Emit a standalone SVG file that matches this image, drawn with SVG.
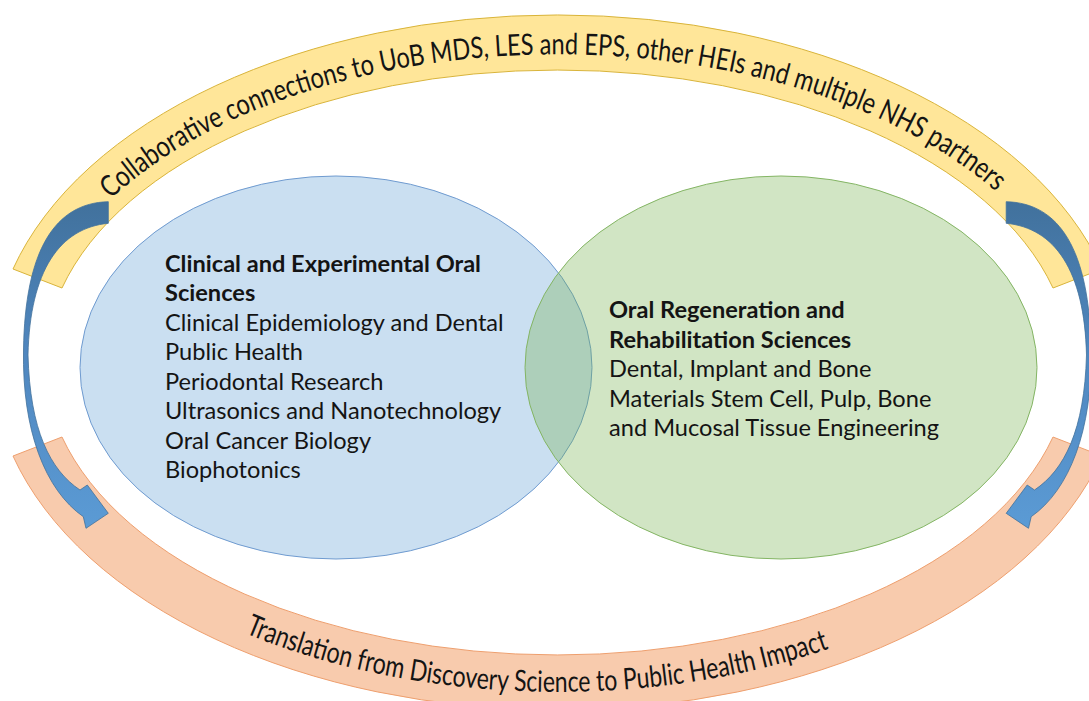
<svg xmlns="http://www.w3.org/2000/svg" width="1089" height="701" viewBox="0 0 1089 701">
<style>
.band-y{fill:#FFE699;stroke:#D9B43A;stroke-width:1}
.band-o{fill:#F8CBAD;stroke:#EE9F6E;stroke-width:1}
.arc-t{font-family:Lato,"Liberation Sans",sans-serif;font-size:29.5px;fill:#141414}
.ell-b{fill:#5B9BD5;fill-opacity:.32;stroke:#6F9BD0;stroke-width:1}
.ell-g{fill:#70AD47;fill-opacity:.32;stroke:#84B564;stroke-width:1}
.t{font-family:Lato,"Liberation Sans",sans-serif;font-size:23.6px;fill:#141414}
.b{font-weight:bold}
.arrow{fill:url(#ag);stroke:#41719C;stroke-width:.8}
</style>
<defs>
<linearGradient id="ag" gradientUnits="userSpaceOnUse" x1="0" y1="200" x2="0" y2="530">
<stop offset="0" stop-color="#41719C"/>
<stop offset="0.45" stop-color="#4F86BE"/>
<stop offset="1" stop-color="#5B9BD5"/>
</linearGradient>
<path id="ptop" d="M111,199 A527 308.5 0 0 1 1004,199"/>
<path id="pbot" d="M245,633 A547.5 329 0 0 0 838,645.5"/>
</defs>
<g id="band-top">
<path class="band-y" d="M13,269 A565.5 348 0 0 1 1102,269 L1053,288 A512.6 293 0 0 0 62,288 Z"/>
<text class="arc-t"><textPath href="#ptop" textLength="948" lengthAdjust="spacingAndGlyphs">Collaborative connections to UoB MDS, LES and EPS, other HEIs and multiple NHS partners</textPath></text>
</g>
<g id="band-bottom">
<path class="band-o" d="M13,456 A565.5 348 0 0 0 1102,456 L1053,437 A512.6 293 0 0 1 62,437 Z"/>
<text class="arc-t"><textPath href="#pbot" textLength="596" lengthAdjust="spacingAndGlyphs">Translation from Discovery Science to Public Health Impact</textPath></text>
</g>
<g id="node-left">
<ellipse class="ell-b" cx="336" cy="367.5" rx="256" ry="191.5"/>
</g>
<g id="node-right">
<ellipse class="ell-g" cx="781" cy="367.5" rx="256" ry="191.5"/>
</g>
<g id="node-left-text">
<text class="t b" x="165" y="271.5">Clinical and Experimental Oral</text>
<text class="t b" x="165" y="301">Sciences</text>
<text class="t" x="165" y="330.5">Clinical Epidemiology and Dental</text>
<text class="t" x="165" y="360">Public Health</text>
<text class="t" x="165" y="389.5">Periodontal Research</text>
<text class="t" x="165" y="419">Ultrasonics and Nanotechnology</text>
<text class="t" x="165" y="448.5">Oral Cancer Biology</text>
<text class="t" x="165" y="478">Biophotonics</text>
</g>
<g id="node-right-text">
<text class="t b" x="609" y="318">Oral Regeneration and</text>
<text class="t b" x="609" y="347.5">Rehabilitation Sciences</text>
<text class="t" x="609" y="377">Dental, Implant and Bone</text>
<text class="t" x="609" y="406.5">Materials Stem Cell, Pulp, Bone</text>
<text class="t" x="609" y="436">and Mucosal Tissue Engineering</text>
</g>
<g id="connectors">
<path id="arrow-left" class="arrow" d="M108.3,201.7 C55,203 25,250 23.5,350 C22,430 45,490 83.3,516.7 L86,528.3 L108.3,513.3 L87.3,485 L80,490 C50,470 30,430 28,355 C30,270 60,228 108.3,223.3 Z"/>
<path id="arrow-right" class="arrow" transform="matrix(-1 0 0 1 1114.5 0)" d="M108.3,201.7 C55,203 25,250 23.5,350 C22,430 45,490 83.3,516.7 L86,528.3 L108.3,513.3 L87.3,485 L80,490 C50,470 30,430 28,355 C30,270 60,228 108.3,223.3 Z"/>
</g>
</svg>
